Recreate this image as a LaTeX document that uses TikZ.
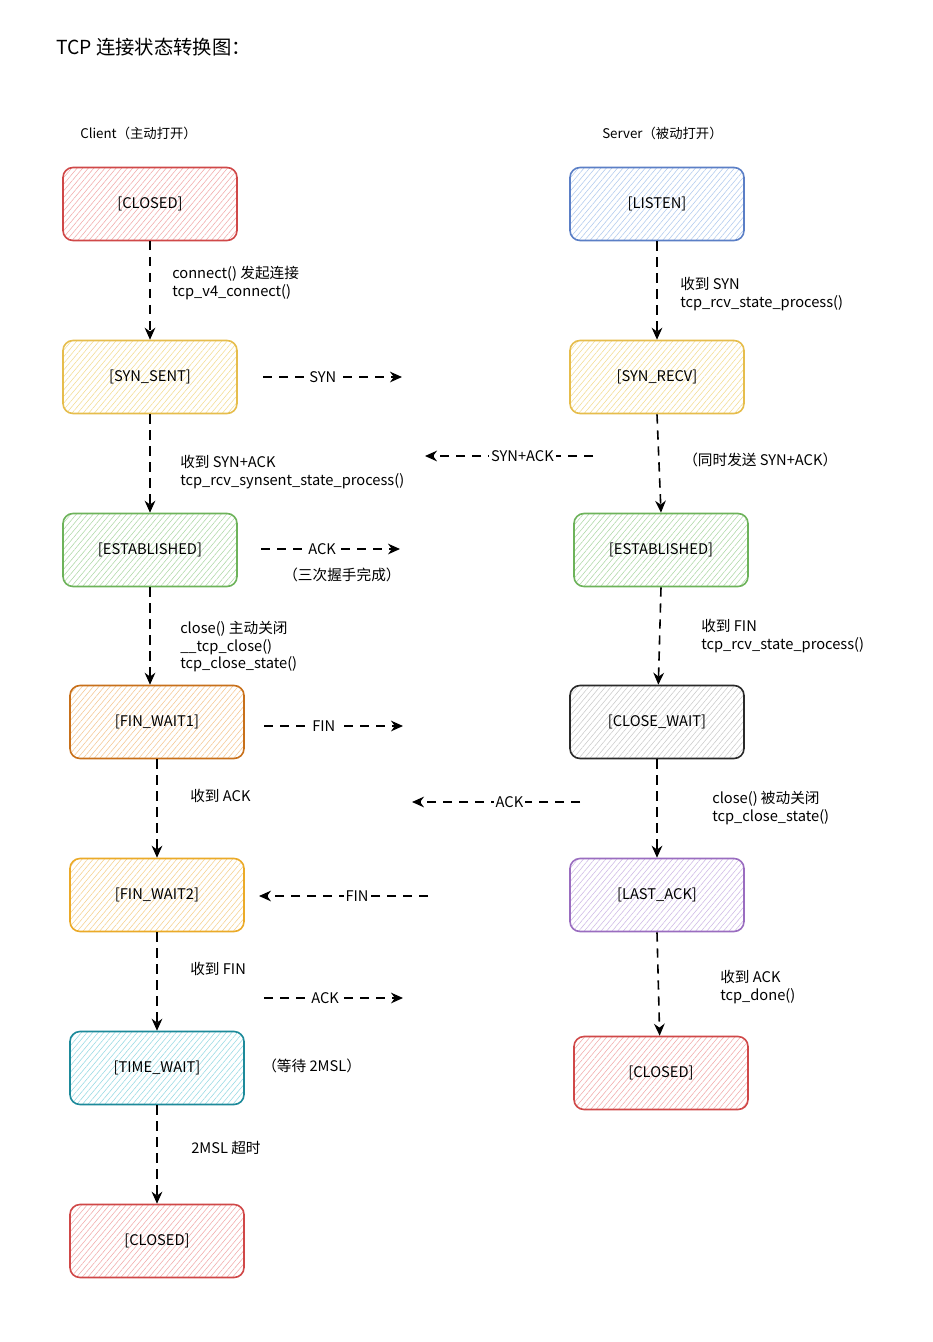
\documentclass[tikz,border=0pt]{standalone}
\usepackage{fontspec}
\setmainfont{Noto Sans CJK SC}
\usetikzlibrary{arrows.meta,patterns.meta}
\definecolor{redS}{HTML}{D04848}\definecolor{redF}{HTML}{F2A9A9}
\definecolor{bluS}{HTML}{5B7FC6}\definecolor{bluF}{HTML}{AFC9EE}
\definecolor{yelS}{HTML}{E6BD4C}\definecolor{yelF}{HTML}{F3DC90}
\definecolor{grnS}{HTML}{6DB35A}\definecolor{grnF}{HTML}{ADD8A5}
\definecolor{oraS}{HTML}{C8701A}\definecolor{oraF}{HTML}{F5C691}
\definecolor{amcS}{HTML}{EBAA28}\definecolor{amcF}{HTML}{F6D08C}
\definecolor{tealS}{HTML}{1D8A9A}\definecolor{tealF}{HTML}{94D9E3}
\definecolor{drkS}{HTML}{2A2A2A}\definecolor{drkF}{HTML}{CACACA}
\definecolor{purS}{HTML}{9A6DC0}\definecolor{purF}{HTML}{CDB8E6}
\tikzset{
  state/.style 2 args={draw=#1, line width=1.2pt, rounded corners=7.5pt,
    minimum width=130.5pt, minimum height=54.75pt, inner sep=0pt,
    pattern={Lines[angle=50,distance=3.2pt,line width=0.4pt]}, pattern color=#2,
    font=\fontsize{11}{13}\selectfont},
  trans/.style={line width=1.2pt, dash pattern=on 7pt off 5pt,
    -{Stealth[length=9pt,width=8pt]}},
  msg/.style={line width=1.2pt, dash pattern=on 7pt off 5pt,
    -{Stealth[length=9pt,width=8pt]}},
  mlabel/.style={fill=white, inner sep=1.5pt, font=\fontsize{11}{13}\selectfont},
  note/.style={anchor=north west, align=left, inner sep=0pt,
    font=\fontsize{11}{13.2}\selectfont},
  head/.style={anchor=west, inner sep=0pt, font=\fontsize{10}{12}\selectfont},
}
\begin{document}
\begin{tikzpicture}[x=0.75pt,y=-0.75pt]
\useasboundingbox (0,0) rectangle (932,1342);
\fill[white] (0,0) rectangle (932,1342);

\node[anchor=west, inner sep=0pt, font=\fontsize{14.5}{17}\selectfont] (title) at (56,47) {TCP 连接状态转换图：};
\node[head] (client) at (80,133) {Client（主动打开）};
\node[head] (server) at (602,133) {Server（被动打开）};

% client states
\node[state={redS}{redF}] (c1) at (150,204) {[CLOSED]};
\node[state={yelS}{yelF}] (c2) at (150,377) {[SYN\_SENT]};
\node[state={grnS}{grnF}] (c3) at (150,550) {[ESTABLISHED]};
\node[state={oraS}{oraF}] (c4) at (157,722) {[FIN\_WAIT1]};
\node[state={amcS}{amcF}] (c5) at (157,895) {[FIN\_WAIT2]};
\node[state={tealS}{tealF}] (c6) at (157,1068) {[TIME\_WAIT]};
\node[state={redS}{redF}] (c7) at (157,1241) {[CLOSED]};

% server states
\node[state={bluS}{bluF}] (s1) at (657,204) {[LISTEN]};
\node[state={yelS}{yelF}] (s2) at (657,377) {[SYN\_RECV]};
\node[state={grnS}{grnF}] (s3) at (661,550) {[ESTABLISHED]};
\node[state={drkS}{drkF}] (s4) at (657,722) {[CLOSE\_WAIT]};
\node[state={purS}{purF}] (s5) at (657,895) {[LAST\_ACK]};
\node[state={redS}{redF}] (s6) at (661,1073) {[CLOSED]};

% client transitions
\draw[trans] (c1.south) -- (c2.north);
\draw[trans] (c2.south) -- (c3.north);
\draw[trans] (c3.south) -- (c4.north -| c3.south);
\draw[trans] (c4.south) -- (c5.north);
\draw[trans] (c5.south) -- (c6.north);
\draw[trans] (c6.south) -- (c7.north);

% server transitions
\draw[trans] (s1.south) -- (s2.north);
\draw[trans] (s2.south) -- ([xshift=3pt]s2.south |- s3.north);
\draw[trans] (s3.south) -- ([xshift=-2pt]s3.south |- s4.north);
\draw[trans] (s4.south) -- (s5.north);
\draw[trans] (s5.south) -- ([xshift=2pt]s5.south |- s6.north);

% transition notes
\node[note] (n1) at (172,266) {connect() 发起连接\\tcp\_v4\_connect()};
\node[note] (n2) at (180,455) {收到 SYN+ACK\\tcp\_rcv\_synsent\_state\_process()};
\node[note] (n3) at (180,621) {close() 主动关闭\\\_\_tcp\_close()\\tcp\_close\_state()};
\node[note] (n4) at (190,789) {收到 ACK};
\node[note] (n5) at (190,962) {收到 FIN};
\node[note] (n6) at (191,1141) {2MSL 超时};
\node[note] (n7) at (680,277) {收到 SYN\\tcp\_rcv\_state\_process()};
\node[note] (n8) at (683,453) {（同时发送 SYN+ACK）};
\node[note] (n9) at (701,619) {收到 FIN\\tcp\_rcv\_state\_process()};
\node[note] (n10) at (712,791) {close() 被动关闭\\tcp\_close\_state()};
\node[note] (n11) at (720,970) {收到 ACK\\tcp\_done()};
\node[note] (n12) at (283,568) {（三次握手完成）};
\node[note] (n13) at (262,1059) {（等待 2MSL）};

% packet messages
\coordinate (m1a) at (263,377); \coordinate (m1b) at (402,377);
\draw[msg] (m1a) -- node[mlabel, pos=0.43] {SYN} (m1b);
\coordinate (m2a) at (593,456); \coordinate (m2b) at (425,456);
\draw[msg] (m2a) -- node[mlabel, pos=0.42] {SYN+ACK} (m2b);
\coordinate (m3a) at (261,549); \coordinate (m3b) at (400,549);
\draw[msg] (m3a) -- node[mlabel, pos=0.44] {ACK} (m3b);
\coordinate (m4a) at (264,726); \coordinate (m4b) at (403,726);
\draw[msg] (m4a) -- node[mlabel, pos=0.43] {FIN} (m4b);
\coordinate (m5a) at (580,802); \coordinate (m5b) at (412,802);
\draw[msg] (m5a) -- node[mlabel, pos=0.42] {ACK} (m5b);
\coordinate (m6a) at (428,896); \coordinate (m6b) at (259,896);
\draw[msg] (m6a) -- node[mlabel, pos=0.42] {FIN} (m6b);
\coordinate (m7a) at (264,998); \coordinate (m7b) at (403,998);
\draw[msg] (m7a) -- node[mlabel, pos=0.44] {ACK} (m7b);
\end{tikzpicture}
\end{document}
